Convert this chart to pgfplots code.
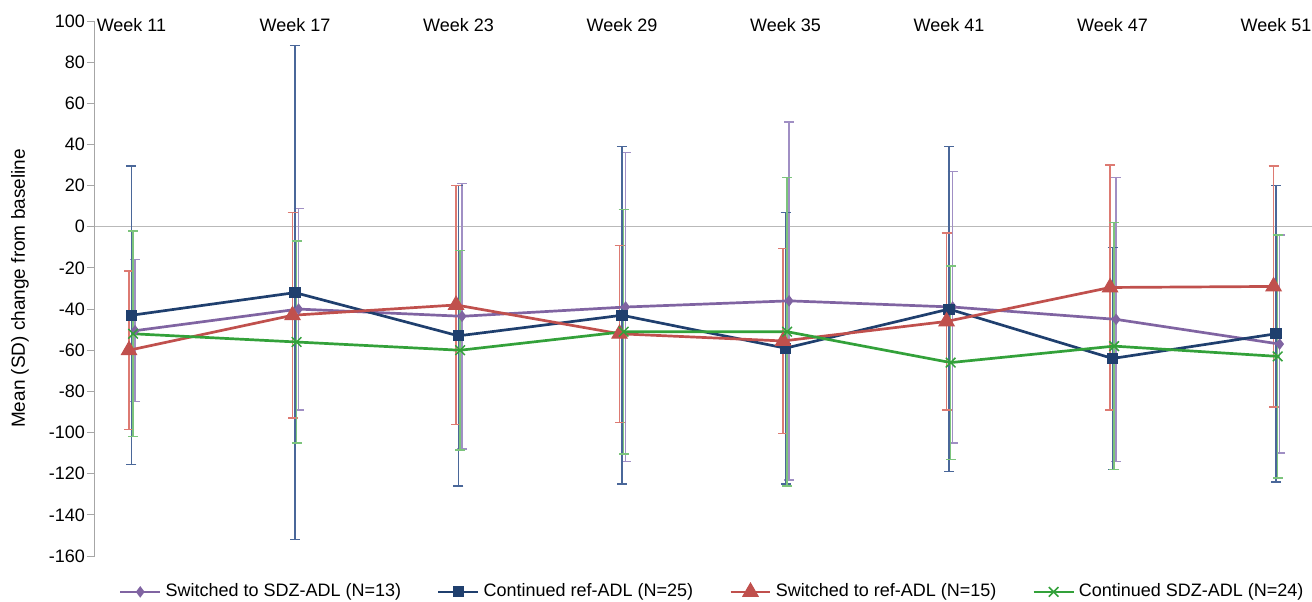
\documentclass[border=0pt]{standalone}
\usepackage{fontspec}
\setmainfont{Liberation Sans}
\usepackage{pgfplots}
\usepackage{pgfplotstable}
\pgfplotsset{compat=1.18}
\definecolor{cPur}{HTML}{8064A2}
\definecolor{cPurE}{HTML}{A08FC4}
\definecolor{cNav}{HTML}{1F3F6E}
\definecolor{cNavE}{HTML}{4A6799}
\definecolor{cRed}{HTML}{C0504D}
\definecolor{cRedE}{HTML}{DD7A72}
\definecolor{cGrn}{HTML}{33A13A}
\definecolor{cGrnE}{HTML}{7CC47C}

% Switched to SDZ-ADL (N=13)
\pgfplotstableread{
x y e
0.022 -50.5 34.5
1.022 -40 49
2.022 -43.5 64.5
3.022 -39 75
4.022 -36 87
5.022 -39 66
6.022 -45 69
7.022 -57 53
}\purp
% Continued ref-ADL (N=25)
\pgfplotstableread{
x y e
0 -43 72.5
1 -32 120
2 -53 73
3 -43 82
4 -59 66
5 -40 79
6 -64 54
7 -52 72
}\navy
% Switched to ref-ADL (N=15)
\pgfplotstableread{
x y e
-0.015 -60 38.5
0.985 -43 50
1.985 -38 58
2.985 -52 43
3.985 -55.5 45
4.985 -46 43
5.985 -29.5 59.5
6.985 -29 58.5
}\redd
% Continued SDZ-ADL (N=24)
\pgfplotstableread{
x y e
0.01 -52 50
1.01 -56 49
2.01 -60 48.5
3.01 -51 59.5
4.01 -51 75
5.01 -66 47
6.01 -58 60
7.01 -63 59
}\grn

\begin{document}
\begin{tikzpicture}
\begin{axis}[
  scale only axis, width=608.5pt, height=267.5pt,
  at={(0,0)}, anchor=south west,
  xmin=-0.223, xmax=7.22, ymin=-160, ymax=100,
  clip=false,
  axis x line=none, axis y line=left,
  axis line style={-, draw=gray!70, line width=0.5pt},
  ytick={-160,-140,...,100},
  tick align=outside, major tick length=4pt,
  ytick style={draw=gray!70, line width=0.5pt},
  /pgf/number format/assume math mode=true,
  yticklabel style={font=\fontsize{9}{10}\selectfont, xshift=2.5pt},
  extra y ticks={0}, extra y tick labels={},
  extra y tick style={grid=major, major grid style={draw=gray!55, line width=0.6pt}},
  ylabel={Mean (SD) change from baseline},
  ylabel style={font=\fontsize{9.5}{11}\selectfont, at={(axis description cs:-0.0616,0.5)}, anchor=center},
  legend style={draw=none, fill=none, at={(0.508,-0.067)}, anchor=center,
    legend columns=4, font=\fontsize{9}{10}\selectfont,
    /tikz/every even column/.append style={column sep=16pt}},
  legend image code/.code={\draw[mark repeat=2,mark phase=2] plot coordinates {(0cm,0cm)(0.35cm,0cm)(0.7cm,0cm)};},
]
% error bars first
\addplot[forget plot, draw=none, mark=none, error bars/.cd, y dir=both, y explicit, error mark=-,
  error bar style={draw=cPurE, line width=0.7pt}, error mark options={rotate=90, draw=cPurE, mark size=2.5pt, line width=0.7pt}]
  table[x=x, y=y, y error=e] {\purp};
\addplot[forget plot, draw=none, mark=none, error bars/.cd, y dir=both, y explicit, error mark=-,
  error bar style={draw=cNavE, line width=0.7pt}, error mark options={rotate=90, draw=cNavE, mark size=2.5pt, line width=0.7pt}]
  table[x=x, y=y, y error=e] {\navy};
\addplot[forget plot, draw=none, mark=none, error bars/.cd, y dir=both, y explicit, error mark=-,
  error bar style={draw=cRedE, line width=0.7pt}, error mark options={rotate=90, draw=cRedE, mark size=2.5pt, line width=0.7pt}]
  table[x=x, y=y, y error=e] {\redd};
\addplot[forget plot, draw=none, mark=none, error bars/.cd, y dir=both, y explicit, error mark=-,
  error bar style={draw=cGrnE, line width=0.7pt}, error mark options={rotate=90, draw=cGrnE, mark size=2.5pt, line width=0.7pt}]
  table[x=x, y=y, y error=e] {\grn};
% lines
\addplot[cPur, line width=1.35pt, mark=diamond*, mark size=1.8pt, mark options={solid, draw=cPur, fill=cPur}] table[x=x, y=y] {\purp};
\addlegendentry{Switched to SDZ-ADL (N=13)}
\addplot[cNav, line width=1.35pt, mark=square*, mark size=2.1pt, mark options={solid, draw=cNav, fill=cNav}] table[x=x, y=y] {\navy};
\addlegendentry{Continued ref-ADL (N=25)}
\addplot[cRed, line width=1.35pt, mark=triangle*, mark size=4.4pt, mark options={solid, draw=cRed, fill=cRed, line width=0.5pt}] table[x=x, y=y] {\redd};
\addlegendentry{Switched to ref-ADL (N=15)}
\addplot[cGrn, line width=1.35pt, mark=x, mark size=3.4pt, mark options={solid, draw=cGrn, line width=0.75pt}] table[x=x, y=y] {\grn};
\addlegendentry{Continued SDZ-ADL (N=24)}
% week labels
\node[font=\fontsize{9}{10}\selectfont] at (axis cs:0,98) {Week 11};
\node[font=\fontsize{9}{10}\selectfont] at (axis cs:1,98) {Week 17};
\node[font=\fontsize{9}{10}\selectfont] at (axis cs:2,98) {Week 23};
\node[font=\fontsize{9}{10}\selectfont] at (axis cs:3,98) {Week 29};
\node[font=\fontsize{9}{10}\selectfont] at (axis cs:4,98) {Week 35};
\node[font=\fontsize{9}{10}\selectfont] at (axis cs:5,98) {Week 41};
\node[font=\fontsize{9}{10}\selectfont] at (axis cs:6,98) {Week 47};
\node[font=\fontsize{9}{10}\selectfont] at (axis cs:7,98) {Week 51};
\end{axis}
\pgfresetboundingbox
\path[use as bounding box] (-47.5pt,-22.5pt) rectangle (608.5pt,278pt);
\end{tikzpicture}
\end{document}
